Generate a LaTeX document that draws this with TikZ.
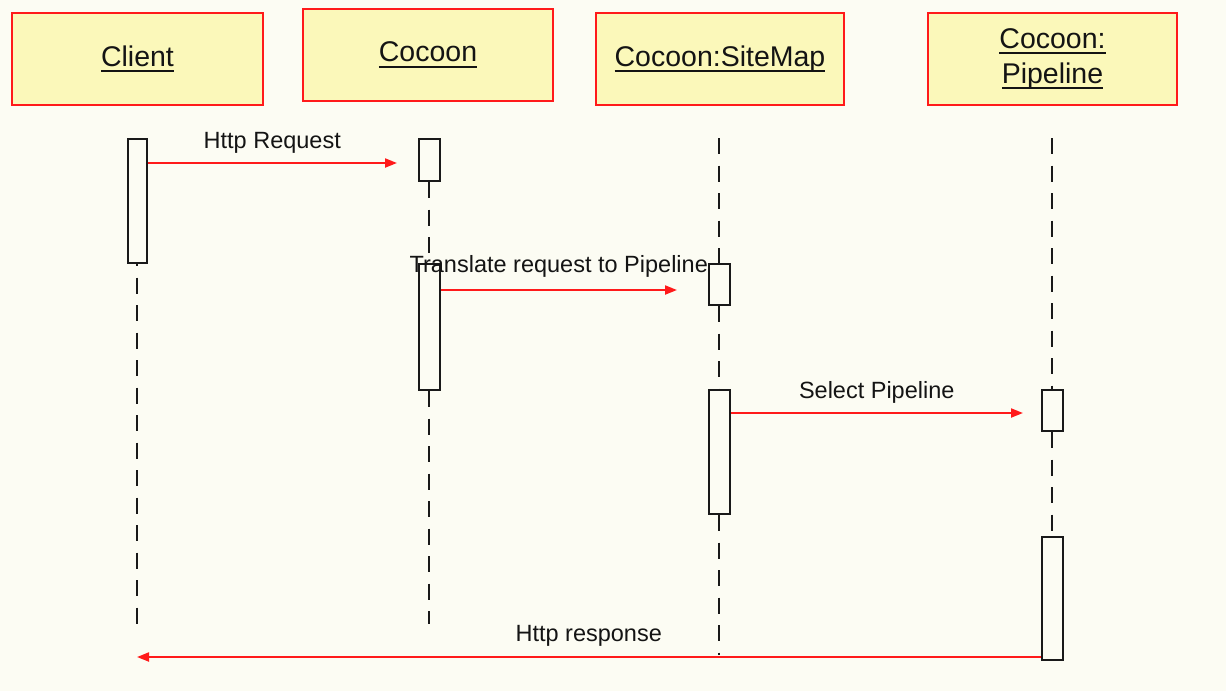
\documentclass[tikz,border=0pt]{standalone}
\usepackage{fontspec}
\setmainfont{Liberation Sans}
\usetikzlibrary{arrows.meta}
\definecolor{bgc}{HTML}{FCFCF3}
\definecolor{hdrfill}{HTML}{FBF8BA}
\definecolor{hdrred}{HTML}{FF1A1A}
\definecolor{txt}{HTML}{141414}
\newcommand\myuline[1]{\leavevmode\setbox0\hbox{#1}\rlap{\rule[-6pt]{\wd0}{2pt}}\box0}
\begin{document}
\begin{tikzpicture}[x=1pt,y=-1pt,
 hdr/.style={draw=hdrred, fill=hdrfill, line width=2pt, minimum height=92pt, inner sep=0pt,
   font=\fontsize{28.5}{35}\selectfont, text=txt, align=center},
 act/.style={draw=black!90, fill=bgc, line width=2pt, minimum width=21pt, inner sep=0pt},
 life/.style={draw=black!90, line width=2pt, dash pattern=on 16pt off 11.5pt},
 msg/.style={draw=hdrred, line width=2pt, -{Triangle[length=12pt,width=9pt]}},
 lbl/.style={font=\fontsize{23.5}{28}\selectfont, text=txt, anchor=base, yshift=15pt, inner sep=0pt}
]
\fill[bgc] (0,0) rectangle (1226,691);
\useasboundingbox (0,0) rectangle (1226,691);
% headers
\node[hdr, minimum width=251pt] (hcl) at (137.5,59) {\myuline{Client}};
\node[hdr, minimum width=250pt] (hco) at (428,55) {\myuline{Cocoon}};
\node[hdr, minimum width=248pt] (hsm) at (720,59) {\myuline{Cocoon:SiteMap}};
\node[hdr, minimum width=249pt] (hpl) at (1052.5,59) {\myuline{Cocoon:}\\\myuline{Pipeline}};
% lifeline coordinates
\coordinate (clend) at (137,624);
\coordinate (coend) at (429,624);
\coordinate (smtop) at (719,138);
\coordinate (smend) at (719,655);
\coordinate (pltop) at (1052,138);
% activation boxes
\node[act, minimum width=19pt, minimum height=124pt] (c1) at (137,201) {};
\node[act, minimum height=42pt] (k1) at (429,160) {};
\node[act, minimum height=126pt] (k2) at (429,327) {};
\node[act, minimum height=41pt] (s1) at (719,284.5) {};
\node[act, minimum height=124pt] (s2) at (719,452) {};
\node[act, minimum height=41pt] (p1) at (1052,410.5) {};
\node[act, minimum height=123pt] (p2) at (1052,598.5) {};
% lifelines
\draw[life, dash phase=14pt] (c1.south) -- (clend);
\draw[life] (k1.south) -- (k2.north);
\draw[life] (k2.south) -- (coend);
\draw[life] (smtop) -- (s1.north);
\draw[life] (s1.south) -- (s2.north);
\draw[life] (s2.south) -- (smend);
\draw[life] (pltop) -- (p1.north);
\draw[life] (p1.south) -- (p2.north);
% messages
\coordinate (t1) at (397,163);
\coordinate (t2) at (677,290);
\coordinate (t3) at (1023,413);
\coordinate (t4) at (137,657);
\draw[msg] (c1.east |- t1) -- node[lbl] {Http Request} (t1);
\draw[msg] (k2.east |- t2) -- node[lbl, yshift=3pt] {Translate request to Pipeline} (t2);
\draw[msg] (s2.east |- t3) -- node[lbl] {Select Pipeline} (t3);
\draw[msg] (p2.west |- t4) -- node[lbl, yshift=1pt] {Http response} (t4);
\end{tikzpicture}
\end{document}
